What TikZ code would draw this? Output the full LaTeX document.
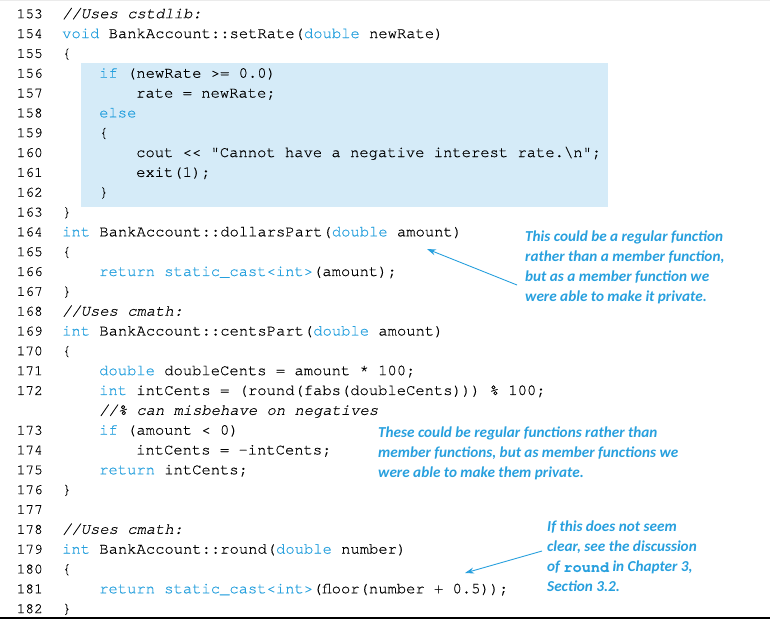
\documentclass[tikz,border=0pt]{standalone}
\usepackage{fontspec}
\setmonofont{texgyrecursor-regular.otf}[BoldFont=texgyrecursor-bold.otf,ItalicFont=texgyrecursor-italic.otf,BoldItalicFont=texgyrecursor-bolditalic.otf,FakeBold=0.4]
\newfontfamily\notefont{Carlito}
\usetikzlibrary{arrows.meta}
\definecolor{kwblue}{RGB}{38,160,222}
\definecolor{hlblue}{RGB}{213,235,248}
\definecolor{noteblue}{RGB}{40,160,222}
\newcommand\kw[1]{\textcolor{kwblue}{#1}}
\tikzset{
  lnum/.style={anchor=base east, inner sep=0pt, font=\ttfamily\fontsize{14.5}{17}\selectfont, text=black},
  code/.style={anchor=base west, inner sep=0pt, font=\ttfamily\fontsize{15.5}{18}\selectfont, text=black},
  note/.style={anchor=north west, inner sep=0pt, align=left, font=\notefont\bfseries\itshape\fontsize{15.2}{20}\selectfont, text=noteblue},
  arr/.style={draw=noteblue, line width=0.9pt, -{Stealth[length=9pt,width=6pt]}}
}
\begin{document}
\begin{tikzpicture}[x=1pt,y=-1pt]
\useasboundingbox[fill=white] (0,0) rectangle (770,619);
\draw[black!8, line width=1pt] (0,0.5) -- (770,0.5);
\draw[black, line width=2pt] (0,618) -- (770,618);
% highlight
\fill[hlblue] (81,63) rectangle (608,207);
% rows
\foreach \i/\n/\x/\t [count=\k] in {
 0/153/62/{\textit{//Uses cstdlib:}},
 1/154/62/{\kw{void} BankAccount::setRate(\kw{double} newRate)},
 2/155/62/{\{},
 3/156/99/{\kw{if} (newRate >= 0.0)},
 4/157/136/{rate = newRate;},
 5/158/99/{\kw{else}},
 6/159/99/{\{},
 7/160/136/{cout << "Cannot have a negative interest rate.\textbackslash n";},
 8/161/136/{exit(1);},
 9/162/99/{\}},
 10/163/62/{\}},
 11/164/62/{\kw{int} BankAccount::dollarsPart(\kw{double} amount)},
 12/165/62/{\{},
 13/166/99/{\kw{return} \kw{static\_cast<int>}(amount);},
 14/167/62/{\}},
 15/168/62/{\textit{//Uses cmath:}},
 16/169/62/{\kw{int} BankAccount::centsPart(\kw{double} amount)},
 17/170/62/{\{},
 18/171/99/{\kw{double} doubleCents = amount * 100;},
 19/172/99/{\kw{int} intCents = (round(fabs(doubleCents))) \% 100;},
 20//99/{\textit{//\% can misbehave on negatives}},
 21/173/99/{\kw{if} (amount < 0)},
 22/174/136/{intCents = -intCents;},
 23/175/99/{\kw{return} intCents;},
 24/176/62/{\}},
 25/177/62/{},
 26/178/62/{\textit{//Uses cmath:}},
 27/179/62/{\kw{int} BankAccount::round(\kw{double} number)},
 28/180/62/{\{},
 29/181/99/{\kw{return} \kw{static\_cast<int>}(floor(number + 0.5));},
 30/182/62/{\}}
}{
  \pgfmathsetmacro\yy{13+19.83*\i+5.2}
  \node[lnum] (n\k) at (43,\yy) {\n};
  \node[code] (c\k) at (\x,\yy) {\t};
}
% notes
\node[note] (note1) at (525,231) {This could be a regular function\\rather than a member function,\\but as a member function we\\were able to make it private.};
\node[note] (note2) at (378,427) {These could be regular functions rather than\\member functions, but as member functions we\\were able to make them private.};
\node[note] (note3) at (547,521) {If this does not seem\\clear, see the discussion\\of {\ttfamily\bfseries\upshape round} in Chapter 3,\\Section 3.2.};
\coordinate (a1s) at (517,285);
\coordinate (a1e) at (427,249);
\coordinate (a3s) at (542,551);
\coordinate (a3e) at (465,573);
\draw[arr] (a1s) -- (a1e);
\draw[arr] (a3s) -- (a3e);
\end{tikzpicture}
\end{document}
